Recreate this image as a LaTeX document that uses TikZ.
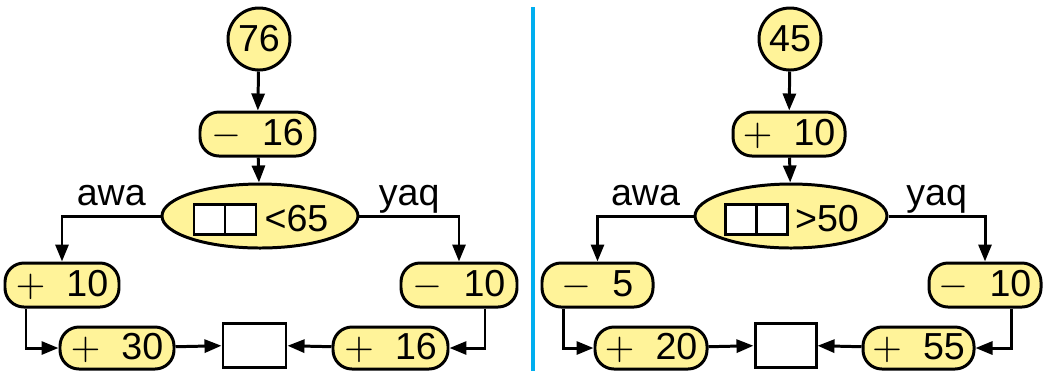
\documentclass[tikz,border=0pt]{standalone}
\usepackage{fontspec}
\setmainfont{Liberation Sans}
\usepackage{tikz}
\usetikzlibrary{shapes.geometric,arrows.meta}

\definecolor{boxyellow}{RGB}{255,243,153}
\definecolor{rulecyan}{RGB}{0,174,239}

\tikzset{
  num/.style={circle, draw, fill=boxyellow, minimum size=0.62cm, inner sep=0pt},
  opbox/.style={rectangle, rounded corners=0.19cm, draw, fill=boxyellow, minimum width=1.14cm, minimum height=0.44cm, inner sep=0pt},
  cond/.style={ellipse, draw, fill=boxyellow, minimum width=1.96cm, minimum height=0.64cm, inner sep=0pt},
  digitbox/.style={rectangle, draw, fill=white, minimum width=0.31cm, minimum height=0.30cm, inner sep=0pt},
  answer/.style={rectangle, draw, fill=white, minimum width=0.63cm, minimum height=0.44cm, inner sep=0pt},
  arr/.style={-{Triangle[length=1.7mm,width=1.3mm]}},
  branch/.style={anchor=base, yshift=0.11cm, inner sep=0pt}
}

\begin{document}
\begin{tikzpicture}[line width=0.85pt, font=\fontsize{10.7}{12}\selectfont]
      \useasboundingbox (0,0) rectangle (10.62,3.71);
      % left panel
      \node [num] (lstart) at (2.59,3.32) {76};
      \node [opbox, minimum width=1.15cm] (lfirst) at (2.575,2.37) {$-$\ \ 16};
      \node [cond] (ltest) at (2.60,1.55) {};
      \node [digitbox] (ltens) at (2.095,1.52) {};
      \node [digitbox] (lones) at (2.405,1.52) {};
      \node (lbound) at (2.965,1.52) {<65};
      \node [opbox] (lyes) at (0.62,0.86) {$+$\ \ 10};
      \node [opbox, minimum width=1.16cm] (lno) at (4.59,0.86) {$-$\ \ 10};
      \node [opbox, minimum height=0.42cm] (lyes2) at (1.17,0.23) {$+$\ \ 30};
      \node [opbox, minimum width=1.15cm, minimum height=0.42cm] (lno2) at (3.905,0.23) {$+$\ \ 16};
      \node [answer] (lend) at (2.545,0.26) {};
      \draw [arr] (lstart) -- (lfirst);
      \draw [arr] (lfirst) -- (ltest);
      \draw [arr] (ltest.west) -| node [branch, pos=0.25] {awa} (lyes.north);
      \draw [arr] (ltest.east) -| node [branch, pos=0.25] {yaq} (lno.north);
      \draw [arr] ([xshift=-0.36cm]lyes.south) |- (lyes2.west);
      \draw [arr] ([xshift=0.26cm]lno.south) |- (lno2.east);
      \draw [arr] (lyes2) -- (lend);
      \draw [arr] (lno2) -- (lend);

      % divider
      \draw [rulecyan, line width=0.9pt] (5.33,3.64) -- (5.33,0);

      % right panel
      \node [num] (rstart) at (7.90,3.32) {45};
      \node [opbox, minimum width=1.12cm] (rfirst) at (7.89,2.37) {$+$\ \ 10};
      \node [cond, minimum width=1.92cm] (rtest) at (7.91,1.55) {};
      \node [digitbox] (rtens) at (7.4125,1.52) {};
      \node [digitbox] (rones) at (7.7175,1.52) {};
      \node (rbound) at (8.27,1.52) {>50};
      \node [opbox, minimum width=1.11cm] (ryes) at (5.975,0.86) {$-$\ \ 5};
      \node [opbox, minimum width=1.12cm] (rno) at (9.85,0.86) {$-$\ \ 10};
      \node [opbox, minimum width=1.12cm, minimum height=0.42cm] (ryes2) at (6.51,0.23) {$+$\ \ 20};
      \node [opbox, minimum width=1.11cm, minimum height=0.42cm] (rno2) at (9.185,0.23) {$+$\ \ 55};
      \node [answer, minimum width=0.61cm] (rend) at (7.855,0.26) {};
      \draw [arr] (rstart) -- (rfirst);
      \draw [arr] (rfirst) -- (rtest);
      \draw [arr] (rtest.west) -| node [branch, pos=0.25] {awa} (ryes.north);
      \draw [arr] (rtest.east) -| node [branch, pos=0.25] {yaq} (rno.north);
      \draw [arr] ([xshift=-0.345cm]ryes.south) |- (ryes2.west);
      \draw [arr] ([xshift=0.26cm]rno.south) |- (rno2.east);
      \draw [arr] (ryes2) -- (rend);
      \draw [arr] (rno2) -- (rend);
    \end{tikzpicture}
\end{document}
